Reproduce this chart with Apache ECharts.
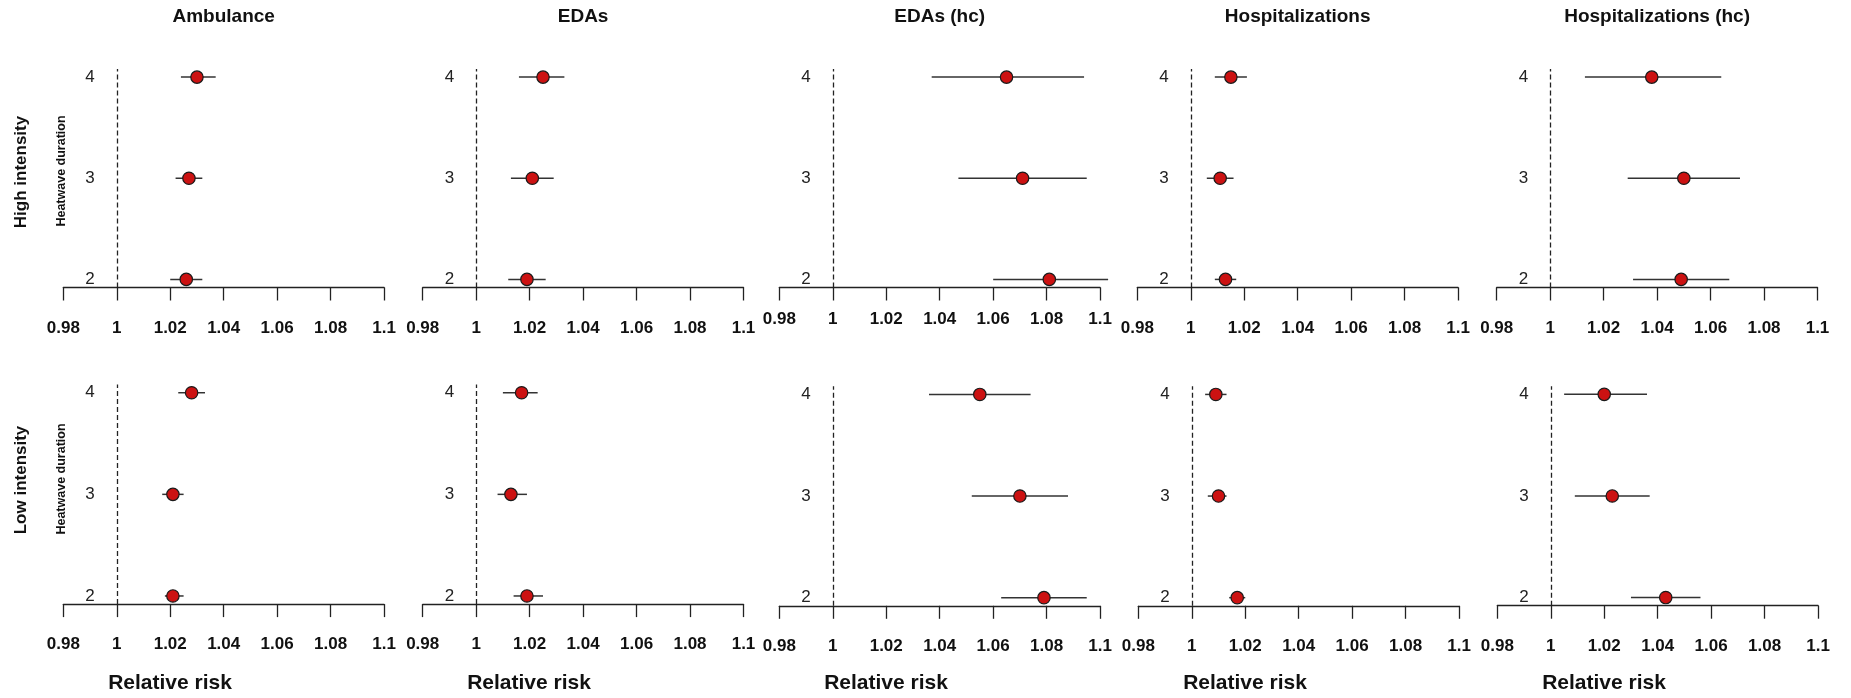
<!DOCTYPE html>
<html>
<head>
<meta charset="utf-8">
<script src="https://cdn.jsdelivr.net/npm/echarts@6/dist/echarts.min.js"></script>
<style>
  html, body { margin: 0; padding: 0; background: #fff; }
  #chart { width: 1851px; height: 698px; }
</style>
</head>
<body>
<div id="chart"></div>
<script>
// heatwave duration (days) and outcome panels
const durations = [2, 3, 4];
const outcomes = ['Ambulance', 'EDAs', 'EDAs (hc)', 'Hospitalizations', 'Hospitalizations (hc)'];
const xTicks = [0.98, 1, 1.02, 1.04, 1.06, 1.08, 1.1];

// high intensity: relative risk and 95% CI, per outcome, by duration 2,3,4
const highRR = [
  [1.026, 1.027, 1.030],
  [1.019, 1.021, 1.025],
  [1.081, 1.071, 1.065],
  [1.013, 1.011, 1.015],
  [1.049, 1.050, 1.038]
];
const highLo = [
  [1.020, 1.022, 1.024],
  [1.012, 1.013, 1.016],
  [1.060, 1.047, 1.037],
  [1.009, 1.006, 1.009],
  [1.031, 1.029, 1.013]
];
const highHi = [
  [1.032, 1.032, 1.037],
  [1.026, 1.029, 1.033],
  [1.103, 1.095, 1.094],
  [1.017, 1.016, 1.021],
  [1.067, 1.071, 1.064]
];

// low intensity
const lowRR = [
  [1.021, 1.021, 1.028],
  [1.019, 1.013, 1.017],
  [1.079, 1.070, 1.055],
  [1.017, 1.010, 1.009],
  [1.043, 1.023, 1.020]
];
const lowLo = [
  [1.018, 1.017, 1.023],
  [1.014, 1.008, 1.010],
  [1.063, 1.052, 1.036],
  [1.014, 1.006, 1.005],
  [1.030, 1.009, 1.005]
];
const lowHi = [
  [1.025, 1.025, 1.033],
  [1.025, 1.019, 1.023],
  [1.095, 1.088, 1.074],
  [1.020, 1.013, 1.013],
  [1.056, 1.037, 1.036]
];

// panel layout (pixels)
const FONT = "'Liberation Sans', Arial, sans-serif";
const panelLeft = [[63.3, 422.7, 779.3, 1137.3, 1496.7], [63.3, 422.7, 779.3, 1138.3, 1497.3]];
const panelWidth = 320.8;
const panelTop = [[69, 69, 69, 69, 69], [384.6, 384.6, 386.3, 386.3, 386.2]];
const panelHeight = [218.5, 219.5];
const labelMargin = [[32, 32, 23, 32, 32], [32, 32, 32, 32, 32]];
const rrLabelX = [170, 529, 886, 1245, 1604];

const grids = [], xAxes = [], yAxes = [], series = [];

function addPanel(row, col, rr, lo, hi) {
  const idx = grids.length;
  grids.push({
    left: panelLeft[row][col], top: panelTop[row][col],
    width: panelWidth, height: panelHeight[row]
  });
  xAxes.push({
    gridIndex: idx, type: 'value', min: 0.98, max: 1.1, interval: 0.02,
    axisLine: { show: true, lineStyle: { color: '#222', width: 1.3 } },
    axisTick: { show: true, length: 13, lineStyle: { color: '#222', width: 1.3 } },
    axisLabel: {
      color: '#111', fontSize: 17, fontWeight: 'bold', fontFamily: FONT,
      margin: labelMargin[row][col], showMinLabel: true, showMaxLabel: true,
      formatter: v => String(+v.toFixed(2))
    },
    splitLine: { show: false }
  });
  yAxes.push({ gridIndex: idx, type: 'value', min: 1.92, max: 4.08, show: false });

  // row labels + dashed null line
  series.push({
    type: 'custom', xAxisIndex: idx, yAxisIndex: idx, clip: false, silent: true,
    data: durations.map(d => [0.99, d]),
    renderItem(params, api) {
      const p = api.coord([api.value(0), api.value(1)]);
      return {
        type: 'text', x: p[0], y: p[1],
        style: {
          text: String(api.value(1)), fill: '#222', fontSize: 17, fontFamily: FONT,
          align: 'center', verticalAlign: 'middle'
        }
      };
    },
    markLine: {
      silent: true, symbol: 'none', label: { show: false },
      lineStyle: { color: '#222', width: 1.3, type: [5, 3] },
      data: [{ xAxis: 1 }]
    }
  });

  // estimates with confidence intervals
  series.push({
    type: 'custom', xAxisIndex: idx, yAxisIndex: idx, clip: false, silent: true,
    data: durations.map((d, i) => [rr[i], d, lo[i], hi[i]]),
    renderItem(params, api) {
      const y = api.value(1);
      const c = api.coord([api.value(0), y]);
      const a = api.coord([api.value(2), y]);
      const b = api.coord([api.value(3), y]);
      return {
        type: 'group',
        children: [
          { type: 'line', shape: { x1: a[0], y1: a[1], x2: b[0], y2: b[1] },
            style: { stroke: '#333', lineWidth: 1.5 } },
          { type: 'circle', shape: { cx: c[0], cy: c[1], r: 6.2 },
            style: { fill: '#cc1212', stroke: '#1a1a1a', lineWidth: 1.2 } }
        ]
      };
    }
  });
}

outcomes.forEach((name, j) => addPanel(0, j, highRR[j], highLo[j], highHi[j]));
outcomes.forEach((name, j) => addPanel(1, j, lowRR[j], lowLo[j], lowHi[j]));

const texts = [];
outcomes.forEach((name, j) => {
  texts.push({
    type: 'text', x: panelLeft[0][j] + panelWidth / 2, y: 17,
    style: { text: name, fontSize: 19, fontWeight: 'bold', fontFamily: FONT, fill: '#111',
             align: 'center', verticalAlign: 'middle' }
  });
  texts.push({
    type: 'text', x: rrLabelX[j], y: 683,
    style: { text: 'Relative risk', fontSize: 21, fontWeight: 'bold', fontFamily: FONT, fill: '#111',
             align: 'center', verticalAlign: 'middle' }
  });
});
[['High intensity', 172], ['Low intensity', 480]].forEach(([t, y]) => {
  texts.push({
    type: 'text', x: 21, y: y, rotation: Math.PI / 2,
    style: { text: t, fontSize: 17, fontWeight: 'bold', fontFamily: FONT, fill: '#111',
             align: 'center', verticalAlign: 'middle' }
  });
  texts.push({
    type: 'text', x: 62, y: y - 1, rotation: Math.PI / 2,
    style: { text: 'Heatwave duration', fontSize: 12.5, fontWeight: 'bold', fontFamily: FONT, fill: '#111',
             align: 'center', verticalAlign: 'middle' }
  });
});

const chart = echarts.init(document.getElementById('chart'), null, { renderer: 'canvas' });
chart.setOption({
  animation: false,
  backgroundColor: '#fff',
  grid: grids,
  xAxis: xAxes,
  yAxis: yAxes,
  series: series,
  graphic: texts
});
window.addEventListener('resize', () => chart.resize());
</script>
</body>
</html>
